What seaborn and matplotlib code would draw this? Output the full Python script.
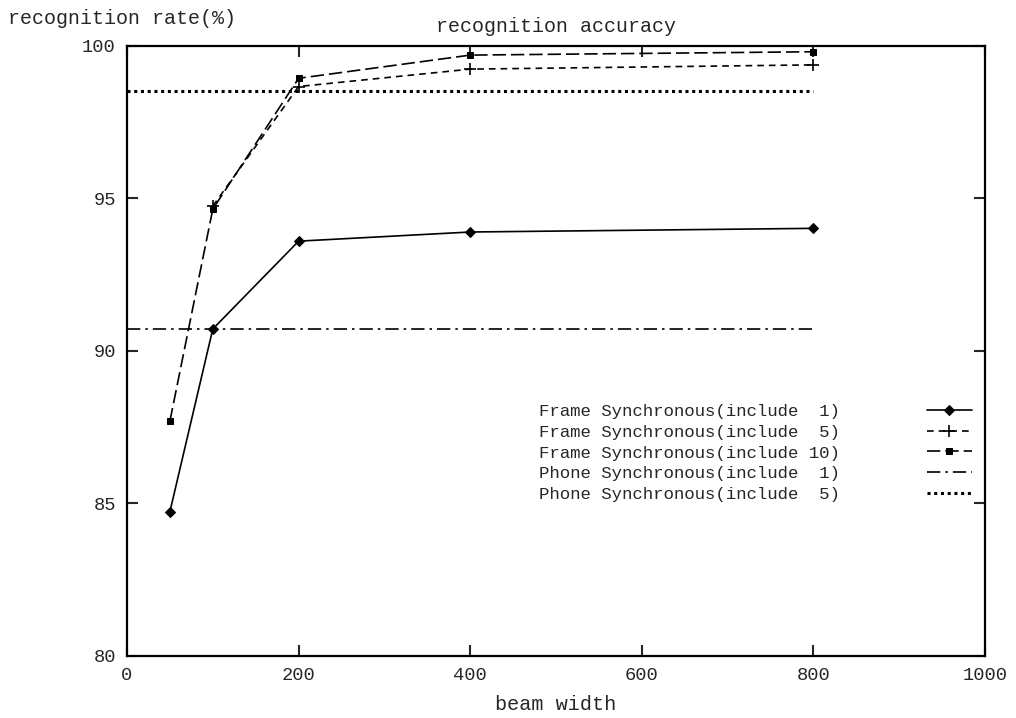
import matplotlib
matplotlib.use("Agg")
import matplotlib.pyplot as plt
import seaborn as sns
import pandas as pd

beam_f1 = [50, 100, 200, 400, 800]
acc_f1 = [84.73, 90.72, 93.6, 93.9, 94.02]
beam_f5 = [100, 200, 400, 800]
acc_f5 = [94.75, 98.67, 99.24, 99.38]
beam_f10 = [50, 100, 200, 400, 800]
acc_f10 = [87.7, 94.65, 98.94, 99.7, 99.81]
beam_p1 = [0, 800]
acc_p1 = [90.72, 90.72]
beam_p5 = [0, 800]
acc_p5 = [98.53, 98.53]

labels = ["Frame Synchronous(include  1)",
          "Frame Synchronous(include  5)",
          "Frame Synchronous(include 10)",
          "Phone Synchronous(include  1)",
          "Phone Synchronous(include  5)"]

sns.set_theme(style="ticks")
plt.rcParams['font.family'] = ['Liberation Mono', 'DejaVu Sans Mono']
plt.rcParams['font.size'] = 12.5

fig = plt.figure(figsize=(10.16, 7.18), dpi=100)
ax = fig.add_axes([0.125, 0.0864, 0.8445, 0.8496])

series = [
    (beam_f1, acc_f1, labels[0], dict(linestyle='-', marker='D', markersize=5)),
    (beam_f5, acc_f5, labels[1], dict(linestyle=(0, (4, 3)), marker='+', markersize=9, markeredgewidth=1.2)),
    (beam_f10, acc_f10, labels[2], dict(linestyle=(0, (8, 3)), marker='s', markersize=5)),
    (beam_p1, acc_p1, labels[3], dict(linestyle=(0, (8, 3, 1.5, 3)))),
    (beam_p5, acc_p5, labels[4], dict(linestyle=(0, (1, 1.2)), linewidth=2.2)),
]
for x, y, lab, kw in series:
    df = pd.DataFrame({"beam": x, "acc": y})
    lw = kw.pop('linewidth', 1.2)
    sns.lineplot(data=df, x="beam", y="acc", ax=ax, color='black', linewidth=lw,
                 label=lab, markeredgecolor='black', **kw)

ax.set_xlim(0, 1000)
ax.set_ylim(80, 100)
ax.set_xticks([0, 200, 400, 600, 800, 1000])
ax.set_yticks([80, 85, 90, 95, 100])
ax.tick_params(direction='in', length=8, width=1.5, top=True, right=True, labelsize=13.5, pad=8)
for s in ax.spines.values():
    s.set_linewidth(1.6)
    s.set_color('black')
ax.set_xlabel("beam width", fontsize=14.5, labelpad=8)
ax.set_ylabel("")
ax.set_title("recognition accuracy", fontsize=14.4, pad=10)
fig.text(0.008, 0.974, "recognition rate(%)", fontsize=14.4, ha='left', va='center')

leg = ax.legend(loc='upper right', bbox_to_anchor=(0.993, 0.425), frameon=False,
                markerfirst=False, handlelength=2.6, handletextpad=5.0, labelspacing=0.33,
                fontsize=12.5, borderaxespad=0)

fig.savefig("out.png", dpi=100, facecolor='white')
